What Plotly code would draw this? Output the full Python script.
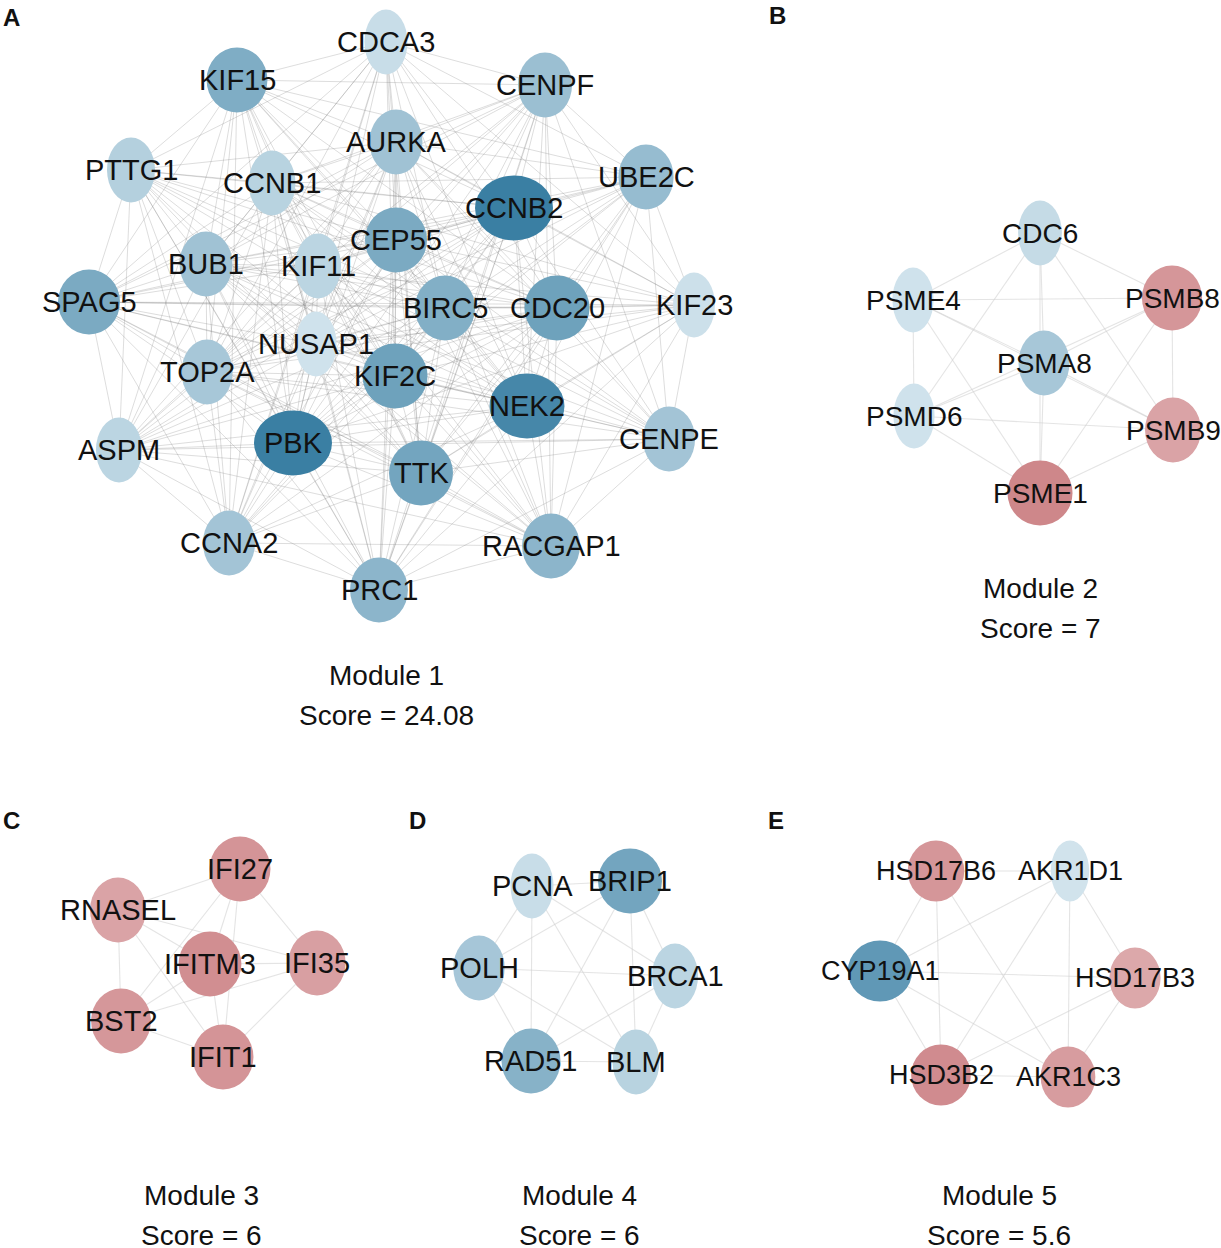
from itertools import combinations

import plotly.graph_objects as go
from plotly.colors import sample_colorscale


# ----------------------------------------------------------------------------- data

# signed fold-change-like value per gene: < 0 drawn in blues, > 0 in reds
M1_GENES = [
    "CDCA3", "KIF15", "CENPF", "AURKA", "PTTG1", "CCNB1", "UBE2C", "CCNB2",
    "CEP55", "BUB1", "KIF11", "SPAG5", "BIRC5", "CDC20", "KIF23", "NUSAP1",
    "TOP2A", "KIF2C", "NEK2", "ASPM", "PBK", "TTK", "CENPE", "CCNA2",
    "RACGAP1", "PRC1",
]
M1_FC = [
    -0.08, -0.55, -0.37, -0.34, -0.21, -0.18, -0.40, -1.00,
    -0.58, -0.34, -0.16, -0.58, -0.53, -0.66, -0.05, -0.03,
    -0.29, -0.66, -0.92, -0.16, -1.00, -0.63, -0.32, -0.32,
    -0.47, -0.47,
]
# pairs with no interaction (module 1 is almost a clique)
M1_MISSING = [
    ("KIF23", "PTTG1"), ("KIF23", "ASPM"), ("KIF23", "CCNA2"), ("CDCA3", "CENPE"),
    ("CDCA3", "RACGAP1"), ("PTTG1", "CENPE"), ("PTTG1", "RACGAP1"), ("PTTG1", "CENPF"),
    ("ASPM", "UBE2C"), ("ASPM", "CENPF"), ("CCNA2", "UBE2C"), ("CCNA2", "CENPF"),
    ("CENPE", "KIF15"), ("CENPE", "SPAG5"), ("RACGAP1", "KIF15"), ("PRC1", "CDCA3"),
    ("NUSAP1", "CDCA3"), ("KIF11", "KIF23"), ("PTTG1", "UBE2C"), ("ASPM", "CDCA3"),
    ("CCNA2", "CENPE"), ("KIF15", "KIF23"), ("SPAG5", "UBE2C"), ("PRC1", "KIF15"),
]
M1_SCORE = "24.08"

M2_GENES = ["CDC6", "PSME4", "PSMB8", "PSMA8", "PSMD6", "PSMB9", "PSME1"]
M2_FC = [-0.10, -0.03, 0.53, -0.29, -0.03, 0.42, 0.66]
M2_MISSING = []
M2_SCORE = "7"

M3_GENES = ["IFI27", "RNASEL", "IFITM3", "IFI35", "BST2", "IFIT1"]
M3_FC = [0.55, 0.42, 0.60, 0.45, 0.52, 0.55]
M3_MISSING = []
M3_SCORE = "6"

M4_GENES = ["PCNA", "BRIP1", "POLH", "BRCA1", "RAD51", "BLM"]
M4_FC = [-0.08, -0.63, -0.30, -0.16, -0.50, -0.18]
M4_MISSING = []
M4_SCORE = "6"

M5_GENES = ["HSD17B6", "AKR1D1", "CYP19A1", "HSD17B3", "HSD3B2", "AKR1C3"]
M5_FC = [0.53, -0.02, -0.75, 0.38, 0.62, 0.48]
M5_MISSING = [("HSD17B6", "HSD17B3")]
M5_SCORE = "5.6"


# ----------------------------------------------------------------------------- layout (page pixels)

NODE_XY = {
    # module 1
    "CDCA3": (386, 42), "KIF15": (237, 80), "CENPF": (545, 85), "AURKA": (396, 142),
    "PTTG1": (131, 170), "CCNB1": (272, 183), "UBE2C": (646, 177), "CCNB2": (514, 208),
    "CEP55": (396, 240), "BUB1": (206, 264), "KIF11": (318, 266), "SPAG5": (89, 302),
    "BIRC5": (445, 308), "CDC20": (557, 308), "KIF23": (694, 305), "NUSAP1": (316, 344),
    "TOP2A": (207, 372), "KIF2C": (395, 376), "NEK2": (527, 406), "ASPM": (119, 450),
    "PBK": (293, 443), "TTK": (421, 473), "CENPE": (669, 439), "CCNA2": (229, 543),
    "RACGAP1": (551, 546), "PRC1": (379, 590),
    # module 2
    "CDC6": (1040, 233), "PSME4": (913, 300), "PSMB8": (1172, 298), "PSMA8": (1044, 363),
    "PSMD6": (914, 416), "PSMB9": (1173, 430), "PSME1": (1040, 493),
    # module 3
    "IFI27": (240, 869), "RNASEL": (118, 910), "IFITM3": (210, 964), "IFI35": (317, 963),
    "BST2": (121, 1021), "IFIT1": (223, 1057),
    # module 4
    "PCNA": (532, 886), "BRIP1": (630, 881), "POLH": (479, 968), "BRCA1": (675, 976),
    "RAD51": (531, 1061), "BLM": (636, 1062),
    # module 5
    "HSD17B6": (936, 871), "AKR1D1": (1070, 871), "CYP19A1": (880, 971),
    "HSD17B3": (1135, 978), "HSD3B2": (941, 1075), "AKR1C3": (1068, 1077),
}

MODULES = [
    # genes, fc, missing, score, title centre, panel letter, letter pos, node scale, font
    (M1_GENES, M1_FC, M1_MISSING, M1_SCORE, (386, 675), "A", (11, 17), 1.0, 29),
    (M2_GENES, M2_FC, M2_MISSING, M2_SCORE, (1040, 588), "B", (777, 15), 1.0, 28),
    (M3_GENES, M3_FC, M3_MISSING, M3_SCORE, (201, 1195), "C", (11, 820), 1.0, 29),
    (M4_GENES, M4_FC, M4_MISSING, M4_SCORE, (579, 1195), "D", (417, 820), 1.0, 29),
    (M5_GENES, M5_FC, M5_MISSING, M5_SCORE, (999, 1195), "E", (776, 820), 0.94, 27),
]

BLUES = [[0, "rgb(212,229,238)"], [1, "rgb(58,127,163)"]]
REDS = [[0, "rgb(238,212,213)"], [1, "rgb(190,95,100)"]]
FONT = "Arial, Liberation Sans, sans-serif"
W, H = 1221, 1248


# ----------------------------------------------------------------------------- helpers


def node_color(v: float) -> str:
    scale = REDS if v > 0 else BLUES
    return sample_colorscale(scale, [min(abs(v), 1.0)])[0]


def edge_pairs(genes, missing):
    skip = {frozenset(p) for p in missing}
    return [p for p in combinations(genes, 2) if frozenset(p) not in skip]


def edge_trace(pairs, color, width):
    xs, ys = [], []
    for a, b in pairs:
        xs += [NODE_XY[a][0], NODE_XY[b][0], None]
        ys += [NODE_XY[a][1], NODE_XY[b][1], None]
    return go.Scatter(
        x=xs, y=ys, mode="lines",
        line=dict(color=color, width=width),
        hoverinfo="skip", showlegend=False,
    )


def node_shapes(genes, fc, scale):
    shapes = []
    for g, v in zip(genes, fc):
        cx, cy = NODE_XY[g]
        w = (40 + 38 * min(abs(v), 1.0)) * scale
        h = 65 * scale
        shapes.append(dict(
            type="circle", xref="x", yref="y", layer="above",
            x0=cx - w / 2, x1=cx + w / 2, y0=cy - h / 2, y1=cy + h / 2,
            fillcolor=node_color(v), line=dict(width=0),
        ))
    return shapes


def text(x, y, s, size, bold=False):
    return dict(
        x=x, y=y, xref="x", yref="y", text=f"<b>{s}</b>" if bold else s,
        showarrow=False, xanchor="center", yanchor="middle",
        font=dict(family=FONT, size=size, color="#111111"),
    )


# ----------------------------------------------------------------------------- figure

fig = go.Figure()
shapes, annotations = [], []

for i, (genes, fc, missing, score, tpos, letter, lpos, scale, fsize) in enumerate(MODULES):
    pairs = edge_pairs(genes, missing)
    if i == 0:
        fig.add_trace(edge_trace(pairs, "rgba(120,120,120,0.32)", 0.8))
    else:
        fig.add_trace(edge_trace(pairs, "rgba(205,205,205,0.55)", 1.1))

    shapes += node_shapes(genes, fc, scale)
    for g in genes:
        annotations.append(text(NODE_XY[g][0], NODE_XY[g][1], g, fsize))

    annotations.append(text(tpos[0], tpos[1], f"Module {i + 1}", 28))
    annotations.append(text(tpos[0], tpos[1] + 40, f"Score = {score}", 28))
    annotations.append(text(lpos[0], lpos[1], letter, 24, bold=True))

fig.update_layout(
    width=W, height=H, autosize=False,
    margin=dict(l=0, r=0, t=0, b=0),
    paper_bgcolor="white", plot_bgcolor="white",
    xaxis=dict(range=[0, W], visible=False, fixedrange=True),
    yaxis=dict(range=[H, 0], visible=False, fixedrange=True),
    shapes=shapes, annotations=annotations,
    showlegend=False,
)

# the page's default 8px body margin would push the figure off the window
fig.write_html(
    "out.html",
    config={"displayModeBar": False},
    post_script="document.body.style.margin = '0px'; document.body.style.overflow = 'hidden';",
)
